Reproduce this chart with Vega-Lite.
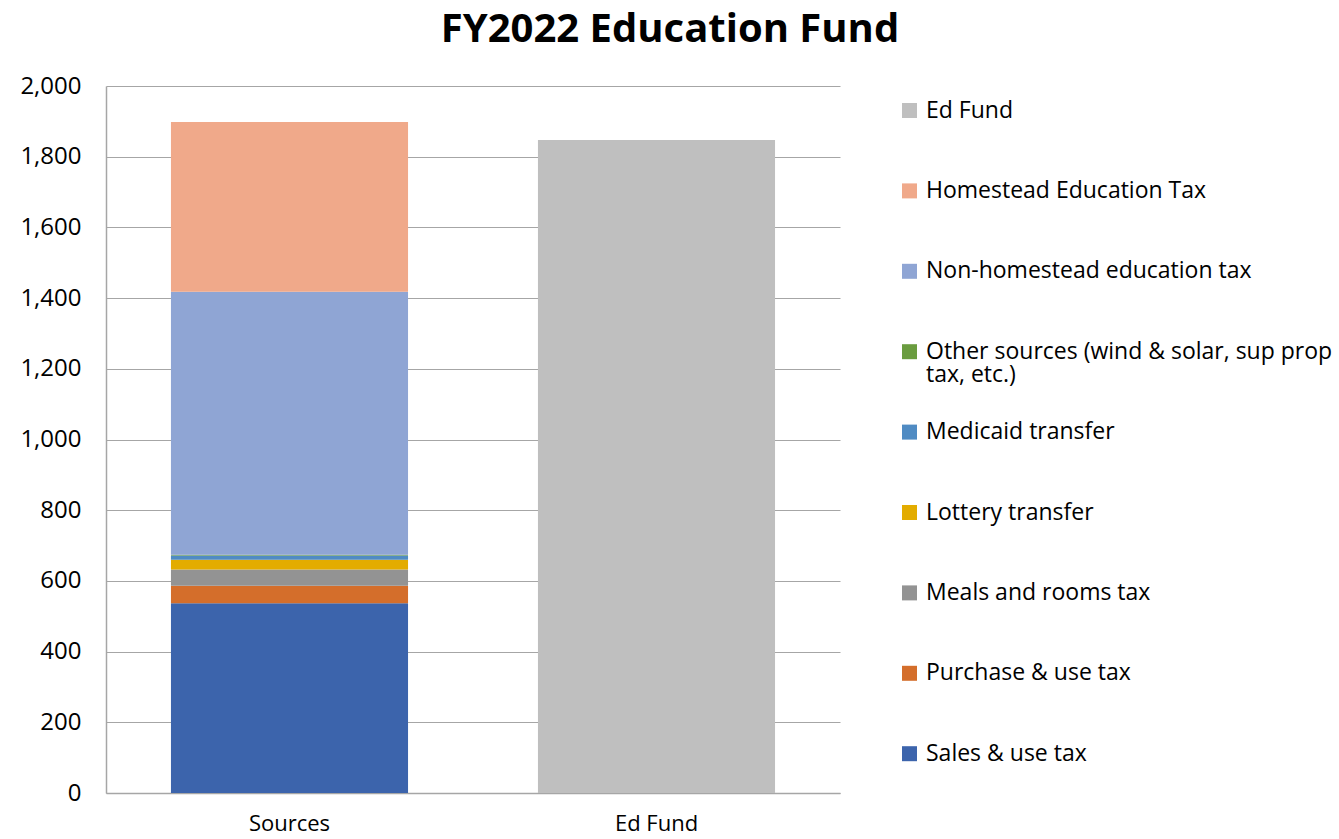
{
  "$schema": "https://vega.github.io/schema/vega-lite/v6.json",
  "autosize": "none",
  "width": 734,
  "height": 707,
  "padding": {"left": 106, "top": 86, "right": 499, "bottom": 46},
  "background": "white",
  "title": {
    "text": "FY2022 Education Fund",
    "font": "Open Sans",
    "fontSize": 40,
    "fontWeight": "bold",
    "color": "#000000",
    "anchor": "middle",
    "dx": 197,
    "offset": 24
  },
  "data": {
    "values": [
      {"cat": "Sources", "series": "Sales & use tax", "value": 537, "rank": 1},
      {"cat": "Sources", "series": "Purchase & use tax", "value": 49, "rank": 2},
      {"cat": "Sources", "series": "Meals and rooms tax", "value": 46, "rank": 3},
      {"cat": "Sources", "series": "Lottery transfer", "value": 28, "rank": 4},
      {"cat": "Sources", "series": "Medicaid transfer", "value": 12, "rank": 5},
      {"cat": "Sources", "series": "Other sources (wind & solar, sup prop tax, etc.)", "value": 2, "rank": 6},
      {"cat": "Sources", "series": "Non-homestead education tax", "value": 744, "rank": 7},
      {"cat": "Sources", "series": "Homestead Education Tax", "value": 480, "rank": 8},
      {"cat": "Ed Fund", "series": "Ed Fund", "value": 1847, "rank": 9}
    ]
  },
  "mark": {"type": "bar"},
  "encoding": {
    "x": {
      "field": "cat",
      "type": "nominal",
      "sort": ["Sources", "Ed Fund"],
      "scale": {"paddingInner": 0.354, "paddingOuter": 0.177},
      "axis": {
        "title": null,
        "labelAngle": 0,
        "labelFont": "Open Sans",
        "labelFontSize": 22,
        "labelColor": "#000000",
        "labelPadding": 20,
        "ticks": false,
        "domainColor": "#A6A6A6",
        "domainWidth": 1.5
      }
    },
    "y": {
      "field": "value",
      "type": "quantitative",
      "stack": "zero",
      "scale": {"domain": [0, 2000], "nice": false},
      "axis": {
        "title": null,
        "values": [0, 200, 400, 600, 800, 1000, 1200, 1400, 1600, 1800, 2000],
        "format": ",d",
        "labelFont": "Open Sans",
        "labelFontSize": 24,
        "labelColor": "#000000",
        "labelPadding": 25,
        "ticks": false,
        "domainColor": "#A6A6A6",
        "domainWidth": 1.5,
        "gridColor": "#A6A6A6",
        "gridWidth": 1.2
      }
    },
    "order": {"field": "rank", "type": "quantitative"},
    "color": {
      "field": "series",
      "type": "nominal",
      "sort": ["Ed Fund", "Homestead Education Tax", "Non-homestead education tax", "Other sources (wind & solar, sup prop tax, etc.)", "Medicaid transfer", "Lottery transfer", "Meals and rooms tax", "Purchase & use tax", "Sales & use tax"],
      "scale": {
        "domain": ["Ed Fund", "Homestead Education Tax", "Non-homestead education tax", "Other sources (wind & solar, sup prop tax, etc.)", "Medicaid transfer", "Lottery transfer", "Meals and rooms tax", "Purchase & use tax", "Sales & use tax"],
        "range": ["#BFBFBF", "#F0A98A", "#8FA5D4", "#6A9C3F", "#4F8BC3", "#E3AC00", "#939393", "#D46E2B", "#3C64AC"]
      },
      "legend": {
        "title": null,
        "orient": "none",
        "legendX": 792,
        "legendY": 13,
        "gridAlign": "all",
        "symbolType": "square",
        "symbolSize": 225,
        "symbolStrokeWidth": 0,
        "labelFont": "Open Sans",
        "labelFontSize": 23,
        "labelColor": "#000000",
        "labelOffset": 5,
        "labelLimit": 500,
        "rowPadding": 33.4,
        "labelExpr": "datum.label == 'Other sources (wind & solar, sup prop tax, etc.)' ? ['Other sources (wind & solar, sup prop', 'tax, etc.)'] : datum.label",
        "encode": {"labels": {"update": {"lineHeight": {"value": 23}}}}
      }
    }
  },
  "config": {"view": {"stroke": null}, "axis": {"grid": true}, "axisX": {"grid": false}}
}
